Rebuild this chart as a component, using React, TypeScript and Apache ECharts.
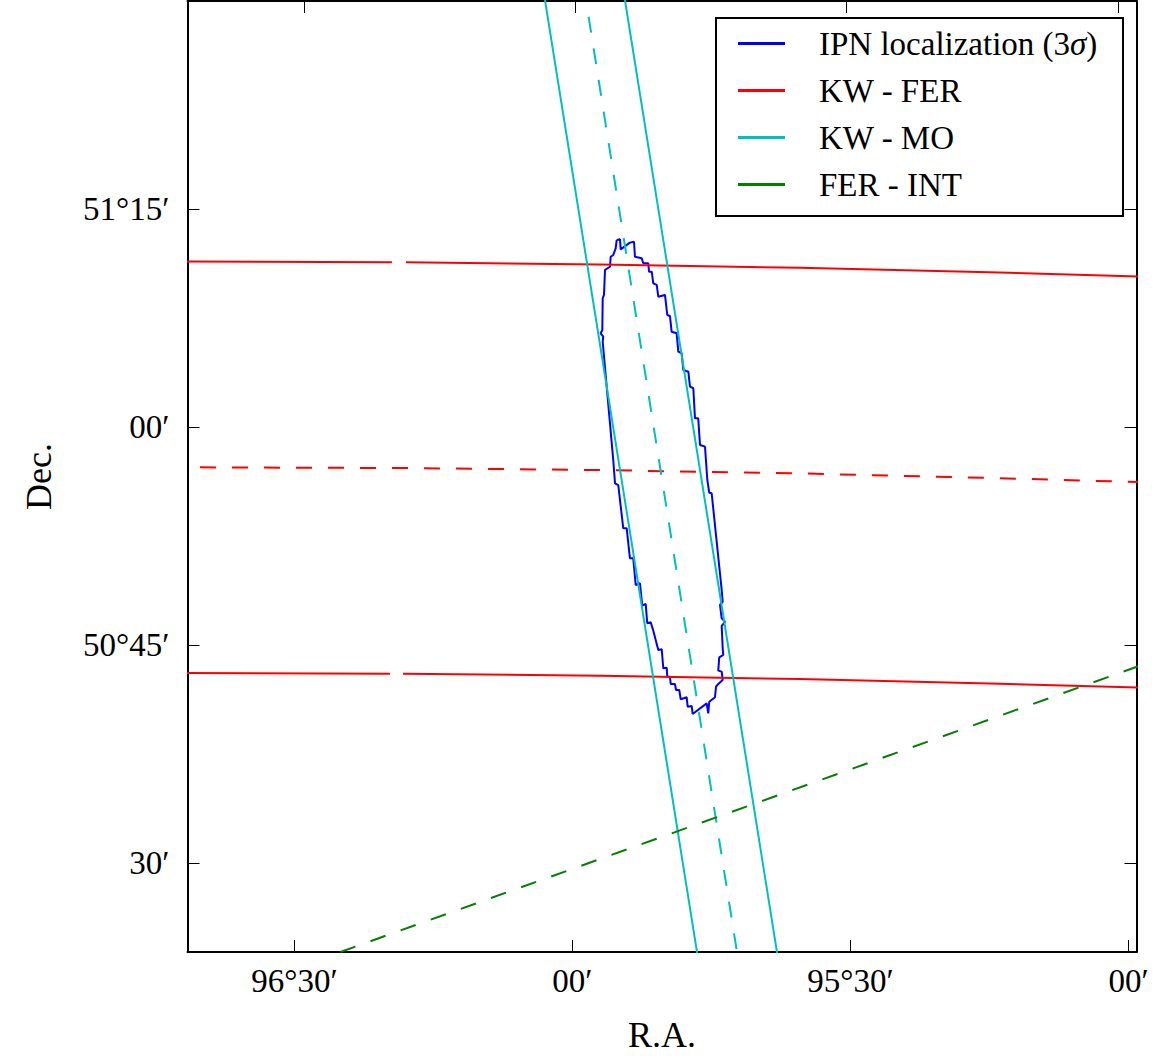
import React, { useEffect, useRef } from "react";
import * as echarts from "echarts";

// ---- Axis extents (degrees) ----
const RA_MIN = 94.9856;
const RA_MAX = 96.6924;
const DEC_MIN = 50.3985;
const DEC_MAX = 51.4891;

// ---- Ticks ----
const xTickValues = [96.5, 96.0, 95.5, 95.0];
const xTickLabels = ["96°30′", "00′", "95°30′", "00′"];
const xTopTickValues = [96.483, 95.9955, 95.508, 95.019];
const yTickValues = [51.25, 51.0, 50.75, 50.5];
const yTickLabels = ["51°15′", "00′", "50°45′", "30′"];

// ---- Data: offsets in arcmin from RA 96°00′ and Dec 51°00′ ----
const RA0 = 96;
const DEC0 = 51;

// IPN 3-sigma localization contour
const ipnDRa = [-4.77, -5.13, -5.2, -6.2, -6.64, -6.74, -7.47, -7.64, -8.18, -8.26, -8.55, -8.72, -9.09, -9.26, -9.98, -10.23, -10.52, -10.7, -11.24, -11.42, -11.78, -11.96, -12.5, -12.68, -13.04, -13.22, -13.57, -13.76, -14.3, -14.55, -14.76, -15.02, -16.1, -16.21, -15.92, -16.1, -16.46, -16.1, -16.21, -16.27, -15.84, -15.73, -16.1, -16.21, -15.73, -15.49, -15.38, -14.76, -14.65, -14.48, -12.97, -12.86, -12.43, -12.32, -11.68, -11.52, -11.17, -11.06, -10.6, -10.52, -10.23, -10.17, -9.8, -9.63, -9.26, -8.72, -8.44, -8.07, -7.9, -7.53, -7.28, -6.82, -6.56, -6.2, -5.85, -5.48, -4.94, -4.59, -4.4, -3.26, -3.32, -3.04, -3.22, -3.26, -3.4, -3.51, -4.05, -4.12, -4.4, -4.66];
const ipnDDec = [12.9, 12.95, 12.26, 12.72, 12.78, 11.75, 11.64, 11.3, 11.3, 10.72, 10.72, 9.92, 9.81, 9.0, 9.12, 7.74, 7.67, 6.59, 6.48, 5.22, 5.11, 3.96, 3.84, 2.81, 2.7, 0.63, 0.63, -1.2, -1.32, -3.61, -4.49, -4.53, -11.18, -11.99, -12.21, -13.13, -13.36, -13.66, -15.19, -15.65, -15.81, -16.73, -16.8, -17.37, -17.65, -17.83, -18.56, -18.87, -19.67, -18.98, -19.71, -19.16, -19.21, -18.56, -18.7, -18.06, -18.06, -17.65, -17.65, -17.15, -17.15, -16.53, -16.57, -15.26, -15.31, -13.98, -13.4, -13.47, -12.14, -12.26, -10.72, -10.84, -9.0, -9.0, -6.94, -6.94, -3.96, -3.84, -2.24, 5.9, 6.25, 6.48, 6.71, 8.89, 9.12, 10.84, 11.06, 11.75, 11.87, 12.33];

// KW - FER annulus (upper edge, centre, lower edge)
const ferUpperADRa = [41.6, 19.48];
const ferUpperADDec = [11.42, 11.37];
const ferUpperBDRa = [17.97, -2.97, -24.55, -46.13, -61.13];
const ferUpperBDDec = [11.37, 11.22, 10.99, 10.66, 10.38];
const ferCenterDRa = [41.6, 18.61, -2.97, -24.55, -46.13, -61.13];
const ferCenterDDec = [-2.74, -2.79, -2.93, -3.16, -3.49, -3.76];
const ferLowerADRa = [41.6, 19.69];
const ferLowerADDec = [-16.89, -16.94];
const ferLowerBDRa = [18.29, -2.97, -24.55, -46.13, -61.13];
const ferLowerBDDec = [-16.94, -17.08, -17.31, -17.63, -17.9];

// KW - MO annulus
const moLeftDRa = [3.14, -13.61];
const moLeftDDec = [30.1, -36.78];
const moCenterDRa = [-1.47, -17.75];
const moCenterDDec = [29.35, -36.09];
const moRightDRa = [-5.49, -22.24];
const moRightDDec = [30.1, -36.78];

// FER - INT annulus centre
const intDRa = [25.05, -61.13];
const intDDec = [-36.09, -16.41];

const NAME_IPN = "IPN localization (3σ)";
const NAME_FER = "KW - FER";
const NAME_MO = "KW - MO";
const NAME_INT = "FER - INT";

const FONT = "'Liberation Serif', 'DejaVu Serif', serif";

function toPoints(dRa: number[], dDec: number[], close = false) {
  const pts = dRa.map((r, i) => [RA0 + r / 60, DEC0 + dDec[i] / 60]);
  if (close) pts.push(pts[0]);
  return pts;
}

function lineSeries(name: string, data: number[][], color: string, dashed = false, dashOffset = 0) {
  return {
    type: "line",
    name,
    data,
    symbol: "none",
    showSymbol: false,
    silent: true,
    clip: true,
    itemStyle: { color },
    lineStyle: {
      color,
      width: 2,
      type: dashed ? [16, 16] : "solid",
      dashOffset,
    },
  };
}

function tickLabel(values: number[], labels: string[]) {
  return (v: number) => {
    const i = values.findIndex((t) => Math.abs(t - v) < 1e-6);
    return i >= 0 ? labels[i] : "";
  };
}

export default function App() {
  const ref = useRef<HTMLDivElement>(null);

  useEffect(() => {
    if (!ref.current) return;
    const chart = echarts.init(ref.current, undefined, { renderer: "svg" });

    const axisLine = { show: true, lineStyle: { color: "#000", width: 2 } };
    const tick = (vals: number[]) => ({
      show: true,
      inside: true,
      length: 12,
      customValues: vals,
      lineStyle: { color: "#000", width: 1 },
    });

    const RED = "#ff0000";
    const CYAN = "#00bfbf";
    const BLUE = "#0000ff";
    const GREEN = "#008000";

    chart.setOption({
      animation: false,
      backgroundColor: "#ffffff",
      grid: {
        left: 187.5,
        top: 1,
        width: 949,
        height: 951,
        containLabel: false,
        outerBoundsMode: "none",
      },
      xAxis: [
        {
          type: "value",
          position: "bottom",
          min: RA_MIN,
          max: RA_MAX,
          inverse: true,
          axisLine,
          axisTick: tick(xTickValues),
          splitLine: { show: false },
          axisLabel: {
            customValues: xTickValues,
            formatter: tickLabel(xTickValues, xTickLabels),
            fontFamily: FONT,
            fontSize: 33,
            color: "#000",
            margin: 12,
          },
          name: "R.A.",
          nameLocation: "middle",
          nameGap: 65,
          nameTextStyle: { fontFamily: FONT, fontSize: 36, lineHeight: 36, color: "#000" },
        },
        {
          type: "value",
          position: "top",
          min: RA_MIN,
          max: RA_MAX,
          inverse: true,
          axisLine,
          axisTick: tick(xTopTickValues),
          splitLine: { show: false },
          axisLabel: { show: false },
        },
      ],
      yAxis: [
        {
          type: "value",
          position: "left",
          min: DEC_MIN,
          max: DEC_MAX,
          axisLine,
          axisTick: tick(yTickValues),
          splitLine: { show: false },
          axisLabel: {
            customValues: yTickValues,
            formatter: tickLabel(yTickValues, yTickLabels),
            fontFamily: FONT,
            fontSize: 33,
            color: "#000",
            margin: 18,
          },
          name: "Dec.",
          nameLocation: "middle",
          nameGap: 131,
          nameTextStyle: { fontFamily: FONT, fontSize: 36, lineHeight: 36, color: "#000" },
        },
        {
          type: "value",
          position: "right",
          min: DEC_MIN,
          max: DEC_MAX,
          axisLine,
          axisTick: tick(yTickValues),
          splitLine: { show: false },
          axisLabel: { show: false },
        },
      ],
      legend: {
        left: 715,
        top: 17,
        orient: "vertical",
        padding: [10, 10, 10, 23],
        itemWidth: 47,
        itemHeight: 3,
        itemGap: 14,
        icon: "rect",
        selectedMode: false,
        z: 10,
        data: [NAME_IPN, NAME_FER, NAME_MO, NAME_INT],
        formatter: (name: string) =>
          name === NAME_IPN ? "{n|IPN localization (3}{s|σ}{n|)}" : name,
        textStyle: {
          fontFamily: FONT,
          fontSize: 33,
          lineHeight: 33,
          color: "#000",
          padding: [0, 0, 0, 29],
          rich: {
            n: { fontFamily: FONT, fontSize: 33, lineHeight: 33, color: "#000" },
            s: { fontFamily: FONT, fontSize: 33, lineHeight: 33, color: "#000", fontStyle: "italic" },
          },
        },
      },
      graphic: [
        {
          type: "rect",
          z: 5,
          silent: true,
          shape: { x: 716, y: 18, width: 407, height: 198 },
          style: { fill: "#ffffff", stroke: "#000000", lineWidth: 2 },
        },
      ],
      series: [
        lineSeries(NAME_IPN, toPoints(ipnDRa, ipnDDec, true), BLUE),
        lineSeries(NAME_FER, toPoints(ferUpperADRa, ferUpperADDec), RED),
        lineSeries(NAME_FER, toPoints(ferUpperBDRa, ferUpperBDDec), RED),
        lineSeries(NAME_FER, toPoints(ferCenterDRa, ferCenterDDec), RED, true, 19),
        lineSeries(NAME_FER, toPoints(ferLowerADRa, ferLowerADDec), RED),
        lineSeries(NAME_FER, toPoints(ferLowerBDRa, ferLowerBDDec), RED),
        lineSeries(NAME_MO, toPoints(moLeftDRa, moLeftDDec), CYAN),
        lineSeries(NAME_MO, toPoints(moCenterDRa, moCenterDDec), CYAN, true, 16),
        lineSeries(NAME_MO, toPoints(moRightDRa, moRightDDec), CYAN),
        lineSeries(NAME_INT, toPoints(intDRa, intDDec), GREEN, true, 0),
      ],
    });

    return () => chart.dispose();
  }, []);

  return (
    <div
      ref={ref}
      style={{
        position: "absolute",
        left: 0,
        top: 0,
        width: 1162,
        height: 1056,
        background: "#fff",
      }}
    />
  );
}
